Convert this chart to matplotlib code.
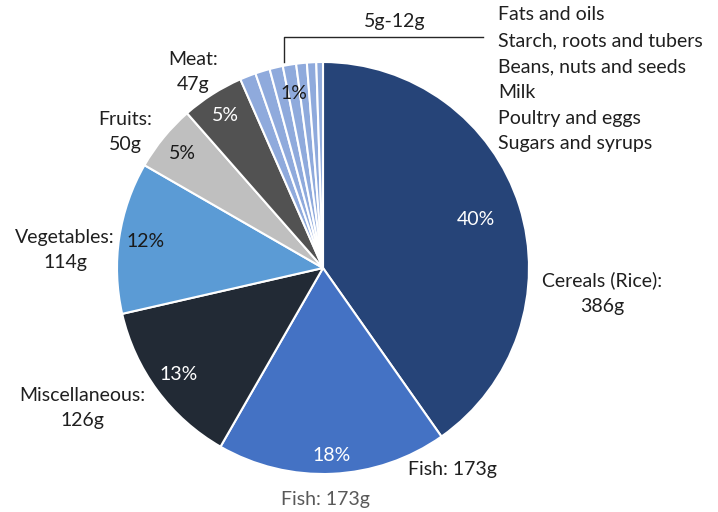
import numpy as np
import matplotlib.pyplot as plt

plt.rcParams['font.family'] = ['Lato', 'DejaVu Sans']

# data
names = ['Cereals (Rice)', 'Fish', 'Miscellaneous', 'Vegetables', 'Fruits', 'Meat',
         's1', 's2', 's3', 's4', 's5', 's6', 's7']
grams = [386, 173, 126, 114, 50, 47, 12, 11, 10, 10, 8, 7, 5]
colors = ['#264478', '#4472C4', '#222A35', '#5B9BD5', '#BFBFBF', '#525252'] + ['#8FAADC'] * 7
small_names = ['Fats and oils', 'Starch, roots and tubers', 'Beans, nuts and seeds',
               'Milk', 'Poultry and eggs', 'Sugars and syrups']

W, H = 718, 512
cx, cy, R = 323, 268, 206
FS = 14

fig = plt.figure(figsize=(W / 100, H / 100), dpi=100)
ax = fig.add_axes([(cx - R) / W, (H - cy - R) / H, 2 * R / W, 2 * R / H])
wedges, _ = ax.pie(grams, colors=colors, startangle=90, counterclock=False,
                   wedgeprops=dict(edgecolor='white', linewidth=1.5))
ax.set_xlim(-1, 1)
ax.set_ylim(-1, 1)
ax.axis('off')

total = sum(grams)

# percent labels: (slice index, radius, text colour)
pct_layout = [(0, 0.78, 'white'), (1, 0.91, 'white'), (2, 0.87, 'white'),
              (3, 0.87, '#1a1a1a'), (4, 0.88, '#1a1a1a'), (5, 0.88, 'white'),
              (9, 0.86, '#1a1a1a')]
for i, r, c in pct_layout:
    w = wedges[i]
    a = np.deg2rad((w.theta1 + w.theta2) / 2)
    ax.text(r * np.cos(a), r * np.sin(a), f'{round(100 * grams[i] / total)}%',
            ha='center', va='center', fontsize=FS, color=c)

# outer category labels, offsets in px from centre
out_layout = {0: (279, -25), 1: (129, -202), 2: (-241, -140), 3: (-258, 18),
              4: (-198, 136), 5: (-130, 196)}
for i, (dx, dy) in out_layout.items():
    if i == 1:
        txt = f'{names[i]}: {grams[i]}g'
    else:
        txt = f'{names[i]}:\n{grams[i]}g'
    ax.text(dx / R, dy / R, txt, ha='center', va='center', fontsize=FS,
            color='#1f1f1f', linespacing=1.6, clip_on=False)

ax.text(2 / R, -232 / R, f'{names[1]}: {grams[1]}g', ha='center', va='center',
        fontsize=FS, color='#595959', clip_on=False)

# bracket for the small slices
small = grams[6:]
ax.plot([-39 / R, -39 / R, 160 / R], [206 / R, 231 / R, 231 / R], color='#262626',
        lw=1, clip_on=False)
ax.text(72 / R, 246 / R, f'{min(small)}g-{max(small)}g', ha='center', va='center',
        fontsize=FS, color='#1f1f1f', clip_on=False)

for k, s in enumerate(small_names):
    fig.text(498 / W, 1 - (15 + 25.8 * k) / H, s, ha='left', va='center',
             fontsize=FS, color='#1f1f1f')

fig.savefig('out.png', dpi=100)
